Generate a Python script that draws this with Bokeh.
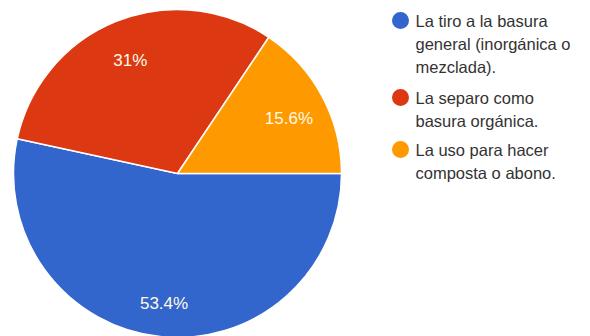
import math
from bokeh.plotting import figure
from bokeh.models import Range1d, ColumnDataSource
from bokeh.core.properties import value
from bokeh.embed import file_html
from bokeh.resources import INLINE

# ---- data ----
categories = [
    "La tiro a la basura\ngeneral (inorgánica o\nmezclada).",
    "La separo como\nbasura orgánica.",
    "La uso para hacer\ncomposta o abono.",
]
percents = [53.4, 31.0, 15.6]
pct_labels = ["53.4%", "31%", "15.6%"]
colors = ["#3366cc", "#dc3912", "#ff9900"]

W, H = 590, 336
p = figure(width=W, height=H, x_range=Range1d(0, W), y_range=Range1d(0, H),
           output_backend="svg", toolbar_location=None, min_border=0)
p.axis.visible = False
p.grid.visible = False
p.outline_line_color = None
p.background_fill_color = "white"
p.border_fill_color = "white"

cx, cy, r = 177, H - 173, 164
total = sum(percents)
cum = 0.0
starts, ends, lx, ly = [], [], [], []
for v in percents:
    a0 = -2 * math.pi * cum / total
    a1 = -2 * math.pi * (cum + v) / total
    starts.append(a1)
    ends.append(a0)
    mid = (a0 + a1) / 2
    lx.append(cx + 0.77 * r * math.cos(mid))
    ly.append(cy + 0.77 * r * math.sin(mid) - 4)
    cum += v

src = ColumnDataSource(dict(start=starts, end=ends, color=colors, lx=lx, ly=ly, lab=pct_labels))
p.wedge(x=cx, y=cy, radius=r, start_angle="start", end_angle="end", direction="anticlock",
        fill_color="color", line_color="white", line_width=1.5, source=src)
p.text(x="lx", y="ly", text="lab", source=src, text_color="#fffbe8", text_font=value("Liberation Sans"),
       text_font_size="17px", text_align="center", text_baseline="middle")

# legend
group_y = [20, 97, 149]
line_h = 23
cxs, cys, tx, ty, tt = [], [], [], [], []
for gy, cat, col in zip(group_y, categories, colors):
    cxs.append(400)
    cys.append(H - gy)
    for i, line in enumerate(cat.split("\n")):
        tx.append(415)
        ty.append(H - (gy + i * line_h))
        tt.append(line)
p.scatter(x=cxs, y=cys, size=17, marker="circle", fill_color=colors, line_color=None)
p.text(x=tx, y=ty, text=tt, text_color="#333333", text_font=value("Liberation Sans"),
       text_font_size="16.5px", text_align="left", text_baseline="middle")

open("out.html", "w").write(file_html(p, INLINE))
